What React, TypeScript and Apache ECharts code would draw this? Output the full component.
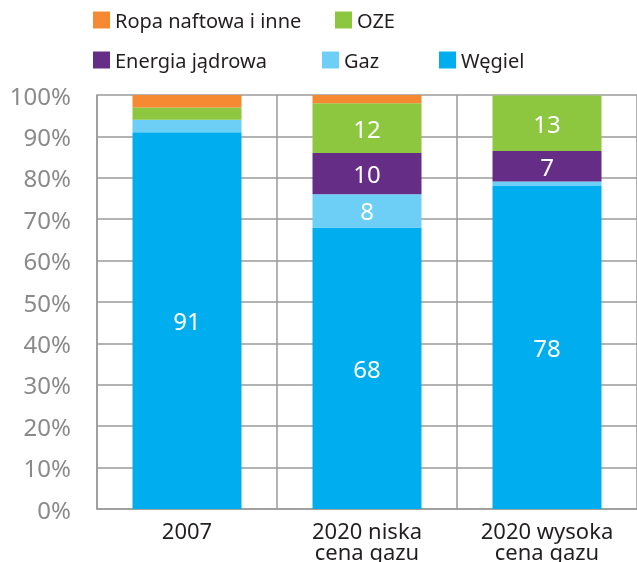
import React, { useEffect, useRef } from "react";
import * as echarts from "echarts";

const categories = ["2007", "2020 niska\ncena gazu", "2020 wysoka\ncena gazu"];
const wegiel = [91, 68, 78];
const gaz = [3, 8, 1.1];
const jadrowa = [0, 10, 7.4];
const oze = [3, 12, 13.4];
const ropa = [3, 2, 0];
const yTicks = [0, 10, 20, 30, 40, 50, 60, 70, 80, 90, 100];

const FONT = "'Noto Sans', sans-serif";

export default function App() {
  const ref = useRef<HTMLDivElement>(null);
  useEffect(() => {
    document.body.style.margin = "0";
    const chart = echarts.init(ref.current!, null, { renderer: "svg" });
    const label = {
      show: true,
      position: "inside",
      color: "#ffffff",
      fontSize: 24,
      fontFamily: FONT,
      formatter: (p: any) => (p.value >= 5 ? String(Math.round(p.value)) : ""),
    };
    const mk = (name: string, data: number[], color: string) => ({
      name,
      type: "bar",
      stack: "total",
      data,
      barWidth: 109,
      itemStyle: { color },
      label,
      emphasis: { disabled: true },
    });
    const legendItem = (name: string, left: number, top: number) => ({
      data: [name],
      left,
      top,
      padding: 0,
      itemWidth: 17,
      itemHeight: 17,
      icon: "rect",
      selectedMode: false,
      textStyle: { fontSize: 20, color: "#231f20", fontFamily: FONT },
    });
    chart.setOption({
      animation: false,
      legend: [
        legendItem("Ropa naftowa i inne", 93, 10),
        legendItem("OZE", 335, 10),
        legendItem("Energia jądrowa", 93, 50),
        legendItem("Gaz", 322, 50),
        legendItem("Węgiel", 439, 50),
      ],
      grid: { left: 97, top: 95, width: 542, height: 414 },
      xAxis: {
        type: "category",
        data: categories,
        axisLine: { show: true, lineStyle: { color: "#9a9a9a", width: 1.5 } },
        axisTick: { show: false },
        splitLine: { show: true, lineStyle: { color: "#9a9a9a", width: 1.5 } },
        axisLabel: {
          color: "#231f20",
          fontSize: 22,
          lineHeight: 21,
          margin: 10,
          fontFamily: FONT,
          interval: 0,
        },
      },
      yAxis: {
        type: "value",
        min: yTicks[0],
        max: yTicks[yTicks.length - 1],
        interval: yTicks[1] - yTicks[0],
        axisLine: { show: true, lineStyle: { color: "#9a9a9a", width: 1.5 } },
        axisTick: { show: false },
        splitLine: { show: true, lineStyle: { color: "#9a9a9a", width: 1.5 } },
        axisLabel: {
          color: "#8a8a8a",
          fontSize: 24,
          margin: 26,
          fontFamily: FONT,
          formatter: "{value}%",
        },
      },
      series: [
        mk("Węgiel", wegiel, "#00aeef"),
        mk("Gaz", gaz, "#6dcff6"),
        mk("Energia jądrowa", jadrowa, "#662d86"),
        mk("OZE", oze, "#8dc63f"),
        mk("Ropa naftowa i inne", ropa, "#f58a32"),
      ],
    });
    return () => chart.dispose();
  }, []);
  return (
    <div
      ref={ref}
      style={{ position: "fixed", left: 0, top: 0, width: 637, height: 562 }}
    />
  );
}
